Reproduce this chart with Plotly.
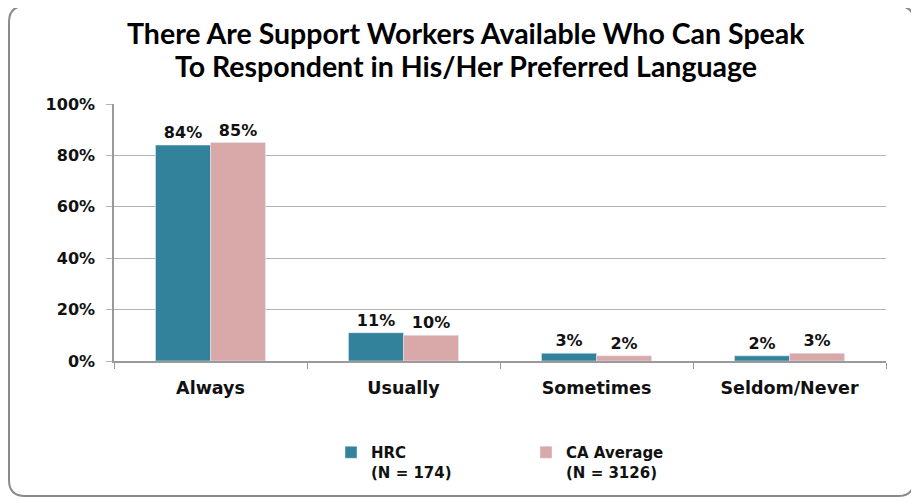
import plotly.graph_objects as go

categories = ["Always", "Usually", "Sometimes", "Seldom/Never"]
hrc_values = [84, 11, 3, 2]
ca_values = [85, 10, 2, 3]
series_names = ["<b>HRC<br>(N = 174)</b>", "<b>CA Average<br>(N = 3126)</b>"]
y_ticks = [0, 20, 40, 60, 80, 100]
title_lines = ["There Are Support Workers Available Who Can Speak",
               "To Respondent in His/Her Preferred Language"]

OFF = 8  # browser body margin
W, H = 919 - OFF, 501 - OFF
ml, mr, mt, mb = 114 - OFF, 919 - 886, 104 - OFF, 501 - 361
pw, ph = W - ml - mr, H - mt - mb

teal = "#33829B"
pink = "#D9A8A8"
lab_font = dict(family="DejaVu Sans", size=16, color="#111111")

fig = go.Figure()
fig.add_trace(go.Bar(x=categories, y=hrc_values, name=series_names[0], marker_color=teal,
                     texttemplate="<b>%{y}%</b>", textposition="outside", textfont=lab_font,
                     cliponaxis=False))
fig.add_trace(go.Bar(x=categories, y=ca_values, name=series_names[1], marker_color=pink,
                     texttemplate="<b>%{y}%</b>", textposition="outside", textfont=lab_font,
                     cliponaxis=False))

def px2paper_x(px):
    return (px - OFF - ml) / pw

def px2paper_y(py):
    return (H + OFF - mb - py) / ph

# rounded border frame (screen pixel coordinates)
x0, x1, y0, y1, r = 9, 914, 6, 496, 16
X0, X1 = px2paper_x(x0), px2paper_x(x1)
Y0, Y1 = px2paper_y(y0), px2paper_y(y1)
rx, ry = r / pw, r / ph
path = (f"M {X0+rx},{Y0} L {X1-rx},{Y0} Q {X1},{Y0} {X1},{Y0-ry} "
        f"L {X1},{Y1+ry} Q {X1},{Y1} {X1-rx},{Y1} L {X0+rx},{Y1} "
        f"Q {X0},{Y1} {X0},{Y1+ry} L {X0},{Y0-ry} Q {X0},{Y0} {X0+rx},{Y0} Z")
fig.add_shape(type="path", path=path, xref="paper", yref="paper",
              line=dict(color="#8a8a8a", width=2), layer="below")

# title lines as annotations
for line, ycen in zip(title_lines, [33, 66]):
    fig.add_annotation(text="<b>" + line + "</b>", x=px2paper_x(466), y=px2paper_y(ycen),
                       xref="paper", yref="paper", xanchor="center", yanchor="middle",
                       showarrow=False, font=dict(family="Lato", size=28.5, color="#000000"))

fig.update_layout(
    width=W, height=H,
    margin=dict(l=ml, r=mr, t=mt, b=mb),
    paper_bgcolor="white", plot_bgcolor="white",
    barmode="group", bargap=0.43, bargroupgap=0,
    legend=dict(orientation="h", x=px2paper_x(331), xanchor="left", y=px2paper_y(436), yanchor="top",
                font=dict(family="DejaVu Sans", size=15, color="#111111"),
                entrywidth=150, entrywidthmode="pixels", valign="top", itemwidth=30,
                bgcolor="rgba(0,0,0,0)"),
    showlegend=True,
)
fig.update_xaxes(showline=True, linecolor="#9a9a9a", linewidth=1.5, ticks="outside",
                 tickson="boundaries", ticklen=6, tickcolor="#9a9a9a",
                 tickfont=dict(family="DejaVu Sans", size=17.5, color="#111111"),
                 tickprefix="<b>", ticksuffix="</b>", ticklabelstandoff=10)
fig.update_yaxes(range=[0, 100], tickvals=y_ticks, ticktext=[f"<b>{v}%</b>" for v in y_ticks],
                 showgrid=True, gridcolor="#b3b3b3", gridwidth=1.2,
                 showline=True, linecolor="#9a9a9a", linewidth=1.5,
                 ticks="outside", ticklen=6, tickcolor="#b3b3b3", ticklabelstandoff=8,
                 tickfont=dict(family="DejaVu Sans", size=16, color="#111111"), zeroline=False)

fig.write_html("out.html")
